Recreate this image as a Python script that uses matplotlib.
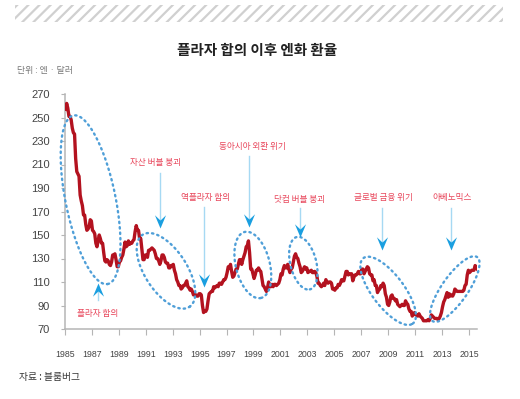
import numpy as np
import matplotlib
matplotlib.use("Agg")
import matplotlib.pyplot as plt
from matplotlib.patches import Rectangle
from matplotlib.path import Path

plt.rcParams['font.family'] = ['Noto Sans CJK KR', 'DejaVu Sans']
plt.rcParams['hatch.linewidth'] = 1.6

# ---------------- data (monthly USD/JPY, yen per dollar) ----------------
start_year = 1985
jpy_1985_1989 = [
    257, 262, 258, 251, 251, 248, 241, 237, 236, 215, 204, 202,
    200, 184, 179, 175, 167, 167, 159, 154, 155, 157, 163, 162,
    154, 153, 151, 143, 140, 145, 150, 147, 143, 143, 135, 128,
    127, 129, 128, 125, 124, 127, 133, 133, 134, 129, 123, 123,
    127, 128, 131, 133, 138, 144, 140, 141, 145, 142, 143, 143,
]
jpy_1990_1999 = [
    145, 146, 153, 158, 154, 154, 147, 147, 138, 129, 129, 133,
    133, 131, 137, 137, 138, 139, 138, 137, 134, 130, 130, 128,
    125, 128, 133, 133, 131, 127, 126, 126, 122, 122, 124, 124,
    125, 120, 117, 112, 110, 107, 107, 104, 105, 107, 107, 109,
    111, 106, 105, 103, 104, 102, 99, 100, 99, 98, 98, 100,
    100, 99, 90, 84, 85, 85, 87, 94, 100, 101, 102, 102,
    106, 105, 106, 107, 106, 109, 109, 108, 110, 112, 112, 114,
    118, 123, 122, 125, 119, 114, 115, 118, 121, 121, 125, 129,
    129, 125, 129, 132, 135, 140, 141, 145, 135, 121, 121, 117,
    113, 116, 120, 120, 122, 120, 119, 113, 107, 106, 104, 102,
]
jpy_2000_2009 = [
    105, 110, 106, 106, 108, 106, 108, 108, 107, 108, 109, 112,
    117, 116, 121, 124, 122, 122, 125, 121, 118, 121, 122, 127,
    132, 134, 131, 130, 126, 123, 118, 119, 121, 123, 121, 122,
    118, 119, 119, 120, 118, 118, 119, 118, 115, 109, 109, 107,
    106, 107, 109, 107, 112, 110, 109, 110, 110, 109, 104, 104,
    103, 105, 105, 108, 107, 109, 112, 111, 111, 115, 119, 119,
    116, 117, 117, 117, 111, 114, 116, 116, 117, 119, 117, 117,
    121, 121, 117, 119, 121, 123, 122, 117, 116, 116, 111, 112,
    107, 107, 101, 103, 104, 107, 106, 109, 107, 100, 97, 91,
    90, 93, 98, 99, 96, 96, 94, 95, 91, 90, 89, 90,
]
jpy_2010_2015 = [
    91, 90, 90, 94, 92, 91, 87, 85, 85, 81, 83, 84,
    82, 82, 81, 83, 81, 80, 79, 77, 77, 77, 77, 78,
    77, 79, 82, 81, 80, 79, 79, 79, 78, 79, 81, 84,
    89, 93, 95, 98, 101, 97, 100, 98, 99, 98, 100, 104,
    103, 102, 102, 102, 102, 102, 102, 103, 107, 108, 116, 120,
    118, 119, 120, 120, 120, 124, 123, 121,
]
usdjpy = np.array(jpy_1985_1989 + jpy_1990_1999 + jpy_2000_2009 + jpy_2010_2015, dtype=float)
dates = start_year + (np.arange(len(usdjpy)) + 0.5) / 12.0

y_ticks = [70, 90, 110, 130, 150, 170, 190, 210, 230, 250, 270]
x_ticks = list(range(1985, 2016, 2))
x_labels = [str(y) for y in x_ticks]

title = "플라자 합의 이후 엔화 환율"
unit_text = "단위 : 엔 · 달러"
source_text = "자료 : 블룸버그"

# events: label, arrow x (year), text y, arrow top, arrow tip, direction
events = [
    ("플라자 합의",       1987.45, 83.5, 95.0, 109.0, "up"),
    ("자산 버블 붕괴",     1992.05, 212.0, 203.0, 156.0, "down"),
    ("역플라자 합의",      1995.35, 181.5, 174.0, 105.5, "down"),
    ("동아시아 외환 위기", 1998.7, 225.7, 217.0, 156.5, "down"),
    ("닷컴 버블 붕괴",     2002.45, 180.6, 173.0, 148.0, "down"),
    ("글로벌 금융 위기",   2008.55, 181.5, 173.0, 137.0, "down"),
    ("아베노믹스",         2013.7, 181.5, 173.0, 137.0, "down"),
]
text_x_offsets = [0.0, -0.35, 0.1, 0.25, 0.0, 0.1, 0.05]

# ellipses: centre (year, value), semi-axes in pixels, angle (deg)
ellipses = [
    (1986.9, 180.0, 86, 25, -78.5),
    (1992.5, 119.5, 43, 21, -57),
    (1998.95, 124.5, 34, 17, -76),
    (2002.7, 126.0, 27, 13, -76),
    (2009.0, 102.5, 41, 16, -53),
    (2013.95, 104.0, 39, 13, 55),
]

# ---------------- figure ----------------
fig = plt.figure(figsize=(5.2, 3.99), dpi=100)
fig.patch.set_facecolor("white")

# hatched header band
band = Rectangle((15 / 520, 1 - 22 / 399), 488 / 520, 17 / 399, transform=fig.transFigure,
                 facecolor="white", edgecolor="#d0d0d0", hatch="///", linewidth=0)
fig.patches.append(band)

fig.text(257 / 520, 1 - 50 / 399, title, ha="center", va="center",
         fontsize=10.5, fontweight="bold", color="#222222")
fig.text(17 / 520, 1 - 71 / 399, unit_text, ha="left", va="center",
         fontsize=6.4, color="#777777")
fig.text(19 / 520, 1 - 377 / 399, source_text, ha="left", va="center",
         fontsize=7.0, color="#333333")

ax = fig.add_axes([65 / 520, 1 - 329 / 399, 412 / 520, 235 / 399])
ax.set_xlim(1985, 2015.6)
ax.set_ylim(70, 270)

ax.plot(dates, usdjpy, color="#b3121f", lw=2.4, solid_joinstyle="round", zorder=3)

for s in ["top", "right"]:
    ax.spines[s].set_visible(False)
for s in ["left", "bottom"]:
    ax.spines[s].set_color("#b5b5b5")
    ax.spines[s].set_linewidth(1.1)

ax.set_yticks(y_ticks)
ax.set_yticklabels([str(v) for v in y_ticks])
ax.set_xticks(x_ticks)
ax.set_xticklabels(x_labels)
ax.tick_params(axis="y", length=3, width=0.8, color="#b5b5b5", labelsize=8,
               labelcolor="#444444", pad=8)
ax.tick_params(axis="x", length=4, width=0.8, color="#b5b5b5", labelsize=6.3,
               labelcolor="#444444", pad=11)
for lab in ax.get_xticklabels() + ax.get_yticklabels():
    lab.set_family(["Liberation Sans Narrow", "Liberation Sans", "DejaVu Sans"])

fig.canvas.draw()
inv = ax.transData.inverted()

# dotted ellipses
t = np.linspace(0, 2 * np.pi, 240)
for cx, cy, a, b, ang in ellipses:
    cxp, cyp = ax.transData.transform((cx, cy))
    r = np.radians(ang)
    xs = cxp + a * np.cos(t) * np.cos(r) - b * np.sin(t) * np.sin(r)
    ys = cyp + a * np.cos(t) * np.sin(r) + b * np.sin(t) * np.cos(r)
    pts = inv.transform(np.column_stack([xs, ys]))
    ax.plot(pts[:, 0], pts[:, 1], color="#4f9fd8", lw=1.7,
            linestyle=(0, (0.6, 1.7)), dash_capstyle="round", zorder=4, clip_on=False)

down_head = Path([(0, 0), (-0.42, 1.0), (0, 0.6), (0.42, 1.0), (0, 0)],
                 [Path.MOVETO, Path.LINETO, Path.LINETO, Path.LINETO, Path.CLOSEPOLY])
up_head = Path([(0, 0), (-0.42, -1.0), (0, -0.6), (0.42, -1.0), (0, 0)],
               [Path.MOVETO, Path.LINETO, Path.LINETO, Path.LINETO, Path.CLOSEPOLY])

for (label, x, ty, top, tip, d), dx in zip(events, text_x_offsets):
    ax.text(x + dx, ty, label, ha="center", va="center", fontsize=6.2,
            color="#e8465b", zorder=5, clip_on=False)
    if d == "down":
        ax.plot([x, x], [top, tip + 4], color="#a6d9f3", lw=1.0, zorder=4)
        ax.plot([x], [tip], marker=down_head, ms=19, color="#1a9fe0",
                markeredgewidth=0, zorder=5)
    else:
        ax.plot([x, x], [top, tip - 4], color="#a6d9f3", lw=1.0, zorder=4)
        ax.plot([x], [tip], marker=up_head, ms=19, color="#1a9fe0",
                markeredgewidth=0, zorder=5)

fig.savefig("out.png", dpi=100, facecolor="white")
